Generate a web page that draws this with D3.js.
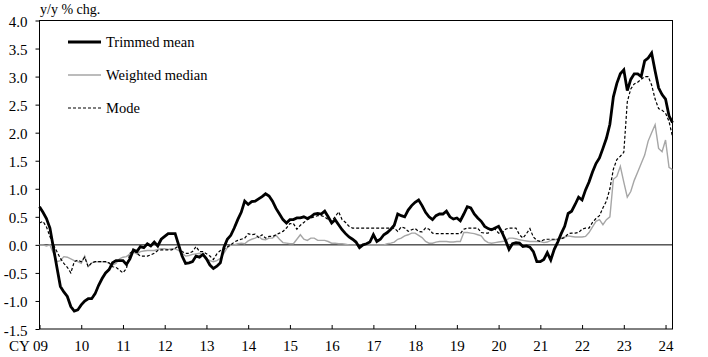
<!DOCTYPE html>
<html><head><meta charset="utf-8">
<script src="https://cdn.jsdelivr.net/npm/d3@7"></script>
<style>
body{margin:0;background:#fff;}
svg{display:block;}
text{font-family:"Liberation Serif","Times New Roman",serif;fill:#000;}
</style></head>
<body><svg id="chart" width="708" height="357"></svg>
<script>
// ---- data (monthly, Jan 2009 – Mar 2024) ----
const startYear = 2009;
const seriesNames = ["Trimmed mean", "Weighted median", "Mode"];
const trimmedMean = [
 0.68,0.58,0.47,0.30,-0.05,-0.40,-0.74,-0.84,-0.92,-1.10,-1.18,-1.16,
 -1.07,-1.00,-0.96,-0.96,-0.87,-0.72,-0.60,-0.50,-0.44,-0.32,-0.28,-0.28,
 -0.28,-0.35,-0.25,-0.09,-0.12,-0.03,-0.05,0.02,-0.02,0.05,-0.02,0.10,
 0.15,0.20,0.20,0.20,0.00,-0.20,-0.33,-0.32,-0.30,-0.20,-0.22,-0.17,
 -0.25,-0.36,-0.42,-0.38,-0.32,-0.05,0.10,0.17,0.30,0.45,0.58,0.78,
 0.72,0.77,0.78,0.82,0.86,0.91,0.87,0.78,0.65,0.55,0.45,0.39,
 0.45,0.45,0.48,0.48,0.50,0.47,0.50,0.55,0.56,0.55,0.60,0.50,
 0.39,0.45,0.36,0.27,0.20,0.14,0.10,0.05,-0.05,0.00,0.02,0.05,
 0.18,0.06,0.10,0.18,0.22,0.28,0.35,0.55,0.52,0.50,0.62,0.70,
 0.76,0.80,0.70,0.58,0.50,0.45,0.52,0.55,0.55,0.60,0.50,0.46,
 0.48,0.43,0.55,0.68,0.66,0.55,0.48,0.42,0.33,0.29,0.27,0.30,
 0.33,0.22,0.08,-0.08,0.02,0.04,0.03,-0.03,-0.02,-0.04,-0.12,-0.30,
 -0.30,-0.26,-0.14,-0.27,-0.08,0.05,0.20,0.33,0.56,0.60,0.72,0.85,
 0.80,0.98,1.12,1.30,1.45,1.55,1.72,1.90,2.15,2.64,2.88,3.05,
 3.12,2.75,2.95,3.05,3.05,3.00,3.28,3.33,3.42,3.10,2.80,2.68,
 2.60,2.30,2.18];
const weightedMedian = [
 0.00,0.00,-0.02,0.00,-0.15,-0.30,-0.28,-0.21,-0.22,-0.25,-0.28,-0.30,
 -0.33,-0.20,-0.39,-0.32,-0.30,-0.30,-0.30,-0.30,-0.33,-0.36,-0.33,-0.25,
 -0.22,-0.21,-0.16,-0.13,-0.16,-0.12,-0.11,-0.10,-0.10,-0.10,-0.08,-0.07,
 -0.07,-0.08,-0.07,-0.07,-0.10,-0.15,-0.20,-0.19,-0.17,-0.16,-0.15,-0.18,
 -0.25,-0.28,-0.30,-0.28,-0.24,-0.15,-0.05,0.00,0.00,0.02,0.03,0.02,
 0.07,0.10,0.12,0.15,0.10,0.09,0.12,0.12,0.17,0.10,0.04,0.03,
 0.02,0.02,0.10,0.18,0.10,0.08,0.12,0.12,0.08,0.08,0.08,0.06,
 0.03,0.03,0.02,0.02,0.01,0.00,0.00,0.00,-0.02,0.00,0.00,0.00,
 0.00,0.00,0.00,0.00,0.02,0.03,0.05,0.10,0.12,0.16,0.18,0.21,
 0.21,0.17,0.13,0.06,0.03,0.03,0.05,0.06,0.06,0.06,0.05,0.05,
 0.06,0.06,0.22,0.22,0.21,0.20,0.18,0.16,0.08,0.04,0.03,0.04,
 0.05,0.06,0.07,0.12,0.12,0.11,0.09,0.08,0.07,0.06,0.06,0.06,
 0.06,0.04,0.05,0.08,0.09,0.10,0.12,0.14,0.16,0.15,0.14,0.14,
 0.14,0.15,0.22,0.32,0.42,0.45,0.36,0.45,0.50,1.17,1.22,1.40,
 1.12,0.85,0.95,1.15,1.30,1.45,1.60,1.85,2.00,2.14,1.72,1.66,
 1.87,1.38,1.34];
const mode = [
 0.39,0.42,0.32,0.15,0.00,-0.12,-0.24,-0.33,-0.40,-0.50,-0.30,-0.27,
 -0.30,-0.22,-0.39,-0.32,-0.30,-0.30,-0.30,-0.30,-0.32,-0.39,-0.40,-0.45,
 -0.50,-0.42,-0.15,-0.10,-0.15,-0.20,-0.20,-0.20,-0.18,-0.15,-0.10,-0.09,
 -0.09,-0.09,-0.09,-0.06,-0.02,-0.12,-0.15,-0.15,-0.12,-0.03,-0.12,-0.12,
 -0.16,-0.20,-0.26,-0.16,-0.10,-0.08,-0.04,0.00,0.05,0.08,0.10,0.12,
 0.20,0.18,0.19,0.13,0.18,0.12,0.15,0.15,0.18,0.21,0.24,0.30,
 0.38,0.38,0.28,0.35,0.40,0.45,0.48,0.50,0.52,0.52,0.50,0.45,
 0.42,0.50,0.59,0.45,0.40,0.33,0.30,0.30,0.30,0.30,0.30,0.30,
 0.30,0.30,0.30,0.30,0.30,0.30,0.30,0.24,0.32,0.30,0.24,0.27,
 0.29,0.24,0.23,0.30,0.28,0.21,0.20,0.20,0.20,0.20,0.20,0.20,
 0.20,0.20,0.28,0.30,0.30,0.30,0.30,0.22,0.21,0.21,0.30,0.28,
 0.21,0.21,0.28,0.30,0.30,0.30,0.18,0.12,0.20,0.29,0.14,0.08,
 0.06,0.09,0.10,0.10,0.10,0.10,0.11,0.13,0.20,0.21,0.21,0.22,
 0.28,0.30,0.30,0.40,0.47,0.52,0.66,0.78,1.00,1.35,1.52,1.58,
 1.65,2.55,2.78,2.87,2.90,2.95,3.00,3.00,2.85,2.60,2.43,2.40,
 2.35,2.20,1.93];
const yTicks = [-1.5,-1.0,-0.5,0.0,0.5,1.0,1.5,2.0,2.5,3.0,3.5,4.0];
const xTickYears = [2009,2010,2011,2012,2013,2014,2015,2016,2017,2018,2019,2020,2021,2022,2023,2024];
const xTickLabels = ["CY 09","10","11","12","13","14","15","16","17","18","19","20","21","22","23","24"];
const yLabel = "y/y % chg.";

// ---- layout ----
const svg = d3.select("#chart");
const L = 39.5, R = 672.5, T = 20.5, B = 329;
const nPts = trimmedMean.length;
const x = d3.scaleLinear().domain([startYear, startYear + (nPts - 1) / 12]).range([L, R]);
const y = d3.scaleLinear().domain([-1.5, 4.0]).range([B, T]);
const tOf = i => startYear + i / 12;

// axes
const yAxis = d3.axisLeft(y).tickValues(yTicks).tickFormat(d3.format(".1f")).tickSize(4).tickSizeOuter(0).tickPadding(8);
const gy = svg.append("g").attr("transform", `translate(${L},0)`).call(yAxis);
gy.select(".domain").remove();
gy.selectAll("text").style("font-size", "15px").attr("font-family", null).attr("dy", "0.4em").text(d => d < 0 ? "-" + d3.format(".1f")(-d) : d3.format(".1f")(d));
gy.selectAll("line").attr("stroke", "#000");

const xAxis = d3.axisBottom(x).tickValues(xTickYears).tickFormat((d, i) => xTickLabels[i]).tickSize(-4).tickSizeOuter(0).tickPadding(11);
const gx = svg.append("g").attr("transform", `translate(0,${B})`).call(xAxis);
gx.select(".domain").remove();
gx.selectAll("text").style("font-size", "15px").attr("font-family", null);
gx.selectAll(".tick").filter((d, i) => i === 0).select("text").attr("text-anchor", "end").attr("x", 8);
gx.selectAll("line").attr("stroke", "#000");

// frame
svg.append("rect").attr("x", L).attr("y", T).attr("width", R - L).attr("height", B - T)
  .attr("fill", "none").attr("stroke", "#000").attr("stroke-width", 1);
// zero line
svg.append("line").attr("x1", L).attr("x2", R).attr("y1", y(0)).attr("y2", y(0))
  .attr("stroke", "#000").attr("stroke-width", 1);

// y label
svg.append("text").attr("x", 40).attr("y", 14).style("font-size", "14px").text(yLabel);

// lines
const line = d3.line().x((d, i) => x(tOf(i))).y(d => y(d));
const styles = [
  {data: trimmedMean, stroke: "#000", width: 2.8, dash: null},
  {data: weightedMedian, stroke: "#a6a6a6", width: 1.4, dash: null},
  {data: mode, stroke: "#000", width: 1.2, dash: "3,2"}
];
[1, 2, 0].forEach(k => {
  const s = styles[k];
  svg.append("path").datum(s.data).attr("d", line).attr("fill", "none")
    .attr("stroke", s.stroke).attr("stroke-width", s.width)
    .attr("stroke-dasharray", s.dash).attr("stroke-linejoin", "miter");
});

// legend
const lg = svg.append("g");
seriesNames.forEach((name, k) => {
  const ly = 42 + k * 33;
  const s = styles[k];
  lg.append("line").attr("x1", 68).attr("x2", 101).attr("y1", ly).attr("y2", ly)
    .attr("stroke", s.stroke).attr("stroke-width", s.width).attr("stroke-dasharray", s.dash);
  lg.append("text").attr("x", 106).attr("y", ly).attr("dy", "0.35em").style("font-size", "14.5px").text(name);
});
</script></body></html>
